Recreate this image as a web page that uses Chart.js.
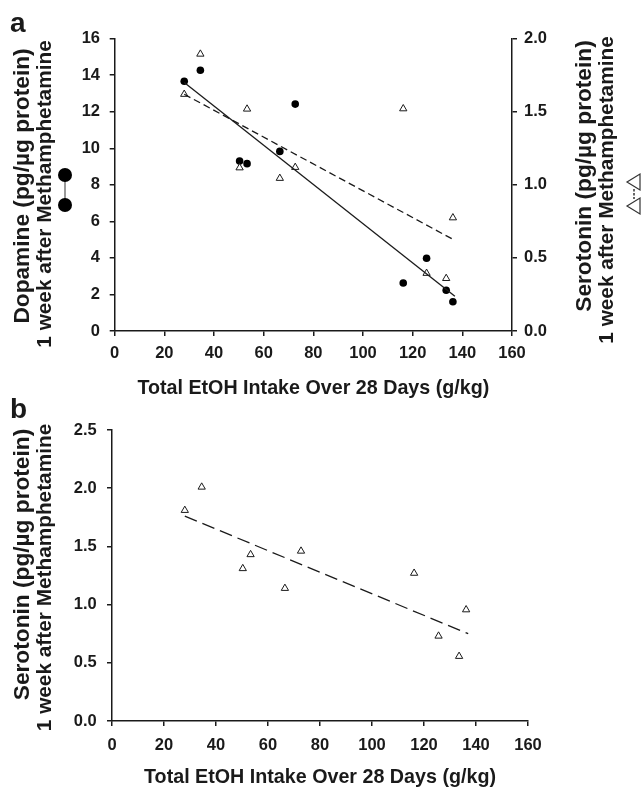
<!DOCTYPE html>
<html>
<head>
<meta charset="utf-8">
<script src="https://cdn.jsdelivr.net/npm/chart.js@4"></script>
<style>
  body { margin: 0; background: #fff; }
  .panel { position: absolute; left: 0; width: 644px; }
  #wrapA { top: 0; height: 400px; }
  #wrapB { top: 390px; height: 399px; }
</style>
</head>
<body>
<div class="panel" id="wrapA"><canvas id="chartA"></canvas></div>
<div class="panel" id="wrapB"><canvas id="chartB"></canvas></div>
<script>
// values
const intake = [28, 34.5, 50.3, 53.3, 66.5, 72.7, 116.2, 125.6, 133.5, 136.2];
const dopamineA = [13.67, 14.27, 9.3, 9.16, 9.83, 12.42, 2.63, 3.98, 2.23, 1.6];
const serotoninA = [1.62, 1.895, 1.117, 1.519, 1.045, 1.12, 1.521, 0.395, 0.36, 0.775];
const serotoninB = [1.81, 2.01, 1.31, 1.43, 1.14, 1.46, 1.27, 0.73, 0.556, 0.956];

// regression line end points
const fitX = [28, 137];
const fitDopamineA = [13.6, 1.9];
const fitSerotoninA = [1.62, 0.62];
const fitSerotoninB = [1.76, 0.75];

const xTitle = 'Total EtOH Intake Over 28 Days (g/kg)';
const daTitle = ['Dopamine (pg/\u00b5g protein)', '1 week after Methamphetamine'];
const htTitle = ['Serotonin (pg/\u00b5g protein)', '1 week after Methamphetamine'];

const FONT = '"Liberation Sans", Arial, sans-serif';
const INK = '#1a1a1a';

function pts(xs, ys) {
    return xs.map((x, i) => ({x: x, y: ys[i]}));
}

// rotated axis titles, legend glyphs, panel letters
const decorations = {
    id: 'decorations',
    afterDraw(chart) {
        const ctx = chart.ctx;
        const d = chart.options.plugins.decorations;
        ctx.save();
        ctx.fillStyle = INK;
        ctx.font = 'bold 28px ' + FONT;
        ctx.textAlign = 'left';
        ctx.textBaseline = 'alphabetic';
        ctx.fillText(d.letter[0], d.letter[1], d.letter[2]);

        ctx.textAlign = 'center';
        ctx.textBaseline = 'middle';
        d.titles.forEach(t => {
            ctx.save();
            ctx.font = 'bold ' + t[3] + 'px ' + FONT;
            ctx.translate(t[1], t[2]);
            ctx.rotate(-Math.PI / 2);
            ctx.fillText(t[0], 0, 0);
            ctx.restore();
        });

        if (d.circles) {
            const [cx, y1, y2] = d.circles;
            ctx.strokeStyle = '#999';
            ctx.lineWidth = 2;
            ctx.beginPath();
            ctx.moveTo(cx, y1);
            ctx.lineTo(cx, y2);
            ctx.stroke();
            ctx.fillStyle = '#000';
            [y1, y2].forEach(y => {
                ctx.beginPath();
                ctx.arc(cx, y, 7, 0, Math.PI * 2);
                ctx.fill();
            });
        }
        if (d.triangles) {
            const [tx, y1, y2] = d.triangles;
            ctx.strokeStyle = '#333';
            ctx.lineWidth = 1.5;
            ctx.setLineDash([2.5, 1.5]);
            ctx.beginPath();
            ctx.moveTo(tx + 1, y1 + 7);
            ctx.lineTo(tx + 1, y2 - 7);
            ctx.stroke();
            ctx.setLineDash([]);
            ctx.lineWidth = 1.2;
            [y1, y2].forEach(y => {
                ctx.beginPath();
                ctx.moveTo(tx - 6, y);
                ctx.lineTo(tx + 7, y - 8);
                ctx.lineTo(tx + 7, y + 8);
                ctx.closePath();
                ctx.stroke();
            });
        }
        ctx.restore();
    }
};

function tickFont() {
    return {family: FONT, size: 16.5, weight: 'bold'};
}

function axisStyle(len) {
    return {
        grid: {display: true, drawOnChartArea: false, drawTicks: true, tickLength: len, color: INK, lineWidth: 1.5},
        border: {display: true, color: INK, width: 1.5}
    };
}

const xScale = (height, pad) => Object.assign({
    type: 'linear', position: 'bottom', min: 0, max: 160,
    ticks: {stepSize: 20, color: INK, font: tickFont(), padding: pad, maxRotation: 0},
    title: {display: true, text: xTitle, color: INK, padding: 0,
        font: {family: FONT, size: 19.7, weight: 'bold'}},
    afterFit(s) { s.height = height; }
}, axisStyle(5));

// panel a
new Chart(document.getElementById('chartA'), {
    type: 'scatter',
    data: {
        datasets: [
            {data: pts(fitX, fitDopamineA), showLine: true, borderColor: INK, borderWidth: 1.3,
             pointRadius: 0, yAxisID: 'y'},
            {data: pts(fitX, fitSerotoninA), showLine: true, borderColor: INK, borderWidth: 1.3,
             borderDash: [7, 4], pointRadius: 0, yAxisID: 'y2'},
            {data: pts(intake, serotoninA), pointStyle: 'triangle', pointRadius: 4.2,
             backgroundColor: '#fff', borderColor: INK, borderWidth: 1, yAxisID: 'y2'},
            {data: pts(intake, dopamineA), pointStyle: 'circle', pointRadius: 3.8,
             backgroundColor: '#000', borderColor: '#000', borderWidth: 0, yAxisID: 'y'}
        ]
    },
    options: {
        responsive: true, maintainAspectRatio: false, animation: false,
        layout: {padding: {top: 38.7, left: 0, right: 0, bottom: 0}},
        plugins: {
            legend: {display: false}, tooltip: {enabled: false},
            decorations: {
                letter: ['a', 10, 32],
                titles: [[daTitle[0], 22.5, 186, 22.7], [daTitle[1], 45.5, 194, 20.8],
                         [htTitle[0], 585, 176, 22.7], [htTitle[1], 607, 190, 20.8]],
                circles: [65, 175, 205],
                triangles: [633, 182, 206]
            }
        },
        scales: {
            x: xScale(69, 8),
            y: Object.assign({
                type: 'linear', position: 'left', min: 0, max: 16,
                ticks: {stepSize: 2, color: INK, font: tickFont(), padding: 9.7},
                afterFit(s) { s.width = 114.7; }
            }, axisStyle(5)),
            y2: Object.assign({
                type: 'linear', position: 'right', min: 0, max: 2,
                ticks: {stepSize: 0.5, color: INK, font: tickFont(), padding: 7,
                    callback: v => v.toFixed(1)},
                afterFit(s) { s.width = 132; }
            }, axisStyle(5))
        }
    },
    plugins: [decorations]
});

// panel b
new Chart(document.getElementById('chartB'), {
    type: 'scatter',
    data: {
        datasets: [
            {data: pts(fitX, fitSerotoninB), showLine: true, borderColor: INK, borderWidth: 1.3,
             borderDash: [13, 6], pointRadius: 0},
            {data: pts(intake, serotoninB), pointStyle: 'triangle', pointRadius: 4.2,
             backgroundColor: '#fff', borderColor: INK, borderWidth: 1}
        ]
    },
    options: {
        responsive: true, maintainAspectRatio: false, animation: false,
        layout: {padding: {top: 40, left: 0, right: 116, bottom: 0}},
        plugins: {
            legend: {display: false}, tooltip: {enabled: false},
            decorations: {
                letter: ['b', 10, 28],
                titles: [[htTitle[0], 23, 174.5, 22.7], [htTitle[1], 45.5, 187.5, 20.8]]
            }
        },
        scales: {
            x: xScale(68, 10),
            y: Object.assign({
                type: 'linear', position: 'left', min: 0, max: 2.5,
                ticks: {stepSize: 0.5, color: INK, font: tickFont(), padding: 10.3,
                    callback: v => v.toFixed(1)},
                afterFit(s) { s.width = 112; }
            }, axisStyle(5))
        }
    },
    plugins: [decorations]
});
</script>
</body>
</html>
